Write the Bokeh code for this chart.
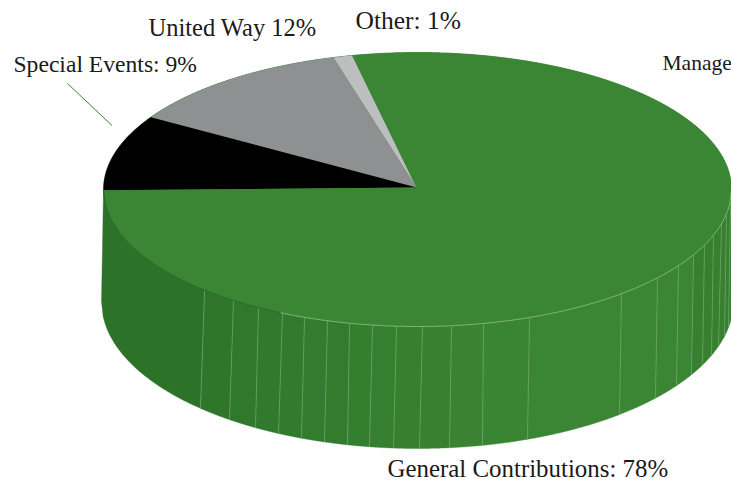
import numpy as np
from bokeh.plotting import figure
from bokeh.models import Range1d
from bokeh.core.properties import value
from bokeh.embed import file_html
from bokeh.resources import INLINE

# Data (counter-clockwise from the start angle)
categories = ["Other", "United Way", "Special Events", "General Contributions"]
shares = [1, 12, 9, 78]
slice_colors = ["#bcbec0", "#8e9092", "#000000", "#3b8634"]
label_texts = ["Other: 1%", "United Way 12%", "Special Events: 9%", "General Contributions: 78%", "Manage"]
label_x = [355, 148, 13, 387, 662]
label_y = [20, 27, 63, 468, 62]
label_sizes = ["25.5px", "24.5px", "23.6px", "24.9px", "21.5px"]

# Seams of the faceted wall: x on the top rim and on the bottom rim
seam_top = [204, 233, 258, 282, 304, 327, 349, 372, 396, 422, 451, 483, 529, 621, 657, 678, 693, 704, 713, 721, 726, 730]
seam_bottom = [200, 229, 255, 278, 301, 324, 347, 369, 393, 419, 449, 482, 527, 619, 655, 676, 691, 702, 711, 718, 724, 728]

# Geometry of the drawing, in reference pixels
APEX = (416.0, 187.0)
TOP = dict(cx=417.0, cy=189.0, a=314.0, b=137.0)
BOT = dict(cx=417.0, cy=301.0, a=316.0, b=147.0)
START = 102.0


def rim_y(x, e):
    u = np.clip((np.asarray(x, float) - e["cx"]) / e["a"], -1, 1)
    return e["cy"] + e["b"] * np.sqrt(1 - u * u)


def ray_point(deg):
    """Where the ray of angle deg from the apex meets the top rim."""
    t = np.radians(deg)
    dx, dy = np.cos(t) * TOP["a"], -np.sin(t) * TOP["b"]
    ux, uy = dx / TOP["a"], dy / TOP["b"]
    px, py = (APEX[0] - TOP["cx"]) / TOP["a"], (APEX[1] - TOP["cy"]) / TOP["b"]
    A, B, C = ux * ux + uy * uy, 2 * (px * ux + py * uy), px * px + py * py - 1
    s = (-B + np.sqrt(B * B - 4 * A * C)) / (2 * A)
    return APEX[0] + s * dx, APEX[1] + s * dy


def lerp_color(c0, c1, f):
    a = [int(c0[i:i + 2], 16) for i in (1, 3, 5)]
    b = [int(c1[i:i + 2], 16) for i in (1, 3, 5)]
    return "#%02x%02x%02x" % tuple(round(p + (q - p) * f) for p, q in zip(a, b))


p = figure(width=731, height=480, output_backend="svg", toolbar_location=None,
           x_range=Range1d(0, 731), y_range=Range1d(480, 0),
           min_border=0, outline_line_color=None)
p.axis.visible = False
p.grid.visible = False
p.background_fill_color = "#ffffff"
p.border_fill_color = "#ffffff"

# Side wall
edges_top = [103.0] + seam_top + [731.0]
edges_bot = [101.0] + seam_bottom + [733.0]
for i in range(len(edges_top) - 1):
    xt = np.linspace(edges_top[i], edges_top[i + 1], 30)
    xb = np.linspace(edges_bot[i + 1], edges_bot[i], 60)
    xs = np.concatenate([xt, xb])
    ys = np.concatenate([rim_y(xt, TOP), rim_y(xb, BOT)])
    mid = (edges_top[i] + edges_top[i + 1]) / 2
    f = float(np.clip((mid - 150) / 380, 0, 1))
    col = lerp_color("#2c7329", "#3b8634", f)
    if mid > 690:
        col = "#378030"
    p.patch(xs, ys, fill_color=col, line_color=col, line_width=0.4)

# Seams
for xt, xb in zip(seam_top, seam_bottom):
    p.line([xt, xb], [float(rim_y(xt, TOP)), float(rim_y(xb, BOT))],
           line_color="#6fa56a", line_width=0.7)

# Top disc
tt = np.linspace(0, 2 * np.pi, 720)
rx, ry = TOP["cx"] + TOP["a"] * np.cos(tt), TOP["cy"] - TOP["b"] * np.sin(tt)
p.patch(rx, ry, fill_color="#3b8634", line_color="#3b8634", line_width=0.8)

# Slices
angle = START
for share, color in zip(shares, slice_colors):
    span = share / sum(shares) * 360
    degs = np.linspace(angle, angle + span, max(3, int(span * 2)))
    pts = [ray_point(d) for d in degs]
    xs = [APEX[0]] + [q[0] for q in pts]
    ys = [APEX[1]] + [q[1] for q in pts]
    p.patch(xs, ys, fill_color=color, line_color=None)
    angle += span

# Rim highlights
xl = np.linspace(103, 280, 120)
p.line(xl, rim_y(xl, TOP), line_color="#22571f", line_width=0.7)
xr = np.linspace(280, 731, 240)
p.line(xr, rim_y(xr, TOP), line_color="#9cc498", line_width=0.7)

# Leader line for Special Events
p.line([67, 111.5], [83, 125], line_color="#3b8634", line_width=1)

# Labels
p.text(label_x, label_y, text=label_texts, text_font=value("Liberation Serif"),
       text_font_size=label_sizes, text_color="#1a1a1a", text_align="left", text_baseline="alphabetic")

open("out.html", "w").write(file_html(p, INLINE))
